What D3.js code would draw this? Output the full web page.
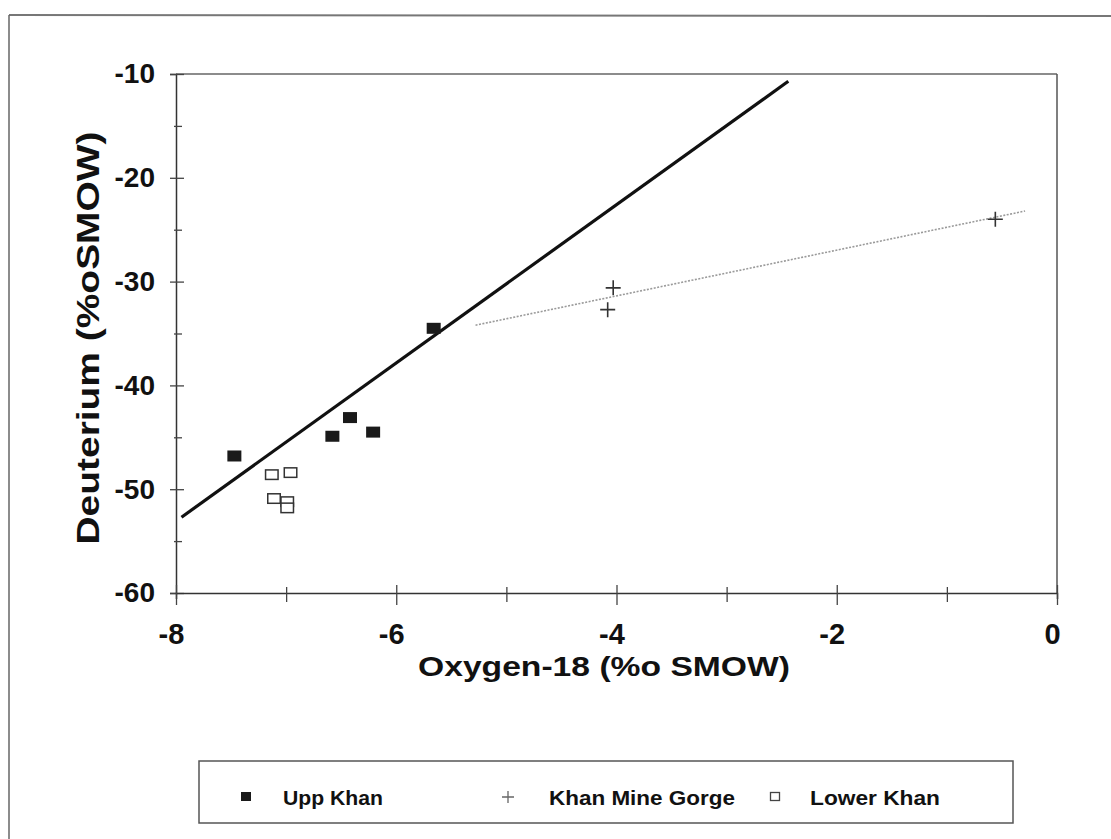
<!DOCTYPE html>
<html>
<head>
<meta charset="utf-8">
<script src="https://cdn.jsdelivr.net/npm/d3@7"></script>
<style>
  html, body { margin: 0; padding: 0; background: #fff; }
  svg { display: block; }
  text { font-family: "Liberation Sans", Arial, sans-serif; font-weight: bold; fill: #111; }
</style>
</head>
<body>
<svg id="chart" width="1111" height="839"></svg>
<script>
// ---- data ----
const seriesNames = ["Upp Khan", "Khan Mine Gorge", "Lower Khan"];
const uppKhanO18 = [-7.47, -6.58, -6.42, -6.21, -5.66];
const uppKhanD   = [-46.8, -44.9, -43.1, -44.5, -34.5];
const gorgeO18   = [-4.03, -4.08, -0.56];
const gorgeD     = [-30.6, -32.7, -24.0];
const lowerKhanO18 = [-7.13, -6.96, -7.11, -6.99, -6.99];
const lowerKhanD   = [-48.6, -48.4, -50.9, -51.2, -51.8];
// regression lines (end points)
const blackLineO18 = [-7.95, -2.44];
const blackLineD   = [-52.7, -10.7];
const greyLineO18  = [-5.28, -0.29];
const greyLineD    = [-34.2, -23.2];
// axis ticks
const xTickValues = [-8, -6, -4, -2, 0];
const xMinorValues = [-7, -5, -3, -1];
const yTickValues = [-10, -20, -30, -40, -50, -60];
const yMinorValues = [-15, -25, -35, -45, -55];
const xTitle = "Oxygen-18 (%o SMOW)";
const yTitle = "Deuterium  (%oSMOW)";

// ---- layout ----
const svg = d3.select("#chart");
const L = 176, R = 1057, T = 74, B = 593;
const x = d3.scaleLinear().domain([-8, 0]).range([L, R]);
const y = d3.scaleLinear().domain([-60, -10]).range([B, T]);

// outer frame
svg.append("line").attr("x1", 9).attr("x2", 1111).attr("y1", 15).attr("y2", 16)
  .attr("stroke", "#777").attr("stroke-width", 2);
svg.append("line").attr("x1", 9).attr("x2", 9).attr("y1", 15).attr("y2", 839)
  .attr("stroke", "#666").attr("stroke-width", 1.5);

// plot frame (top, right)
svg.append("line").attr("x1", L).attr("x2", R).attr("y1", T).attr("y2", T)
  .attr("stroke", "#666").attr("stroke-width", 1.5);
svg.append("line").attr("x1", R).attr("x2", R).attr("y1", T).attr("y2", B)
  .attr("stroke", "#555").attr("stroke-width", 1.5);

// y axis
const yAxis = svg.append("g").attr("transform", `translate(${L},0)`)
  .call(d3.axisLeft(y).tickValues(yTickValues).tickSize(6).tickFormat(d3.format("d")));
yAxis.select(".domain").attr("stroke", "#333").attr("stroke-width", 1.5);
yAxis.selectAll(".tick line").attr("x1", -6).attr("x2", 8).attr("stroke", "#444").attr("stroke-width", 1.3);
yAxis.selectAll(".tick text").attr("x", -21).attr("font-size", 28)
  .attr("font-family", "Liberation Sans, Arial, sans-serif").attr("font-weight", "bold").attr("fill", "#111")
  .text(d => d.toString().replace("\u2212", "-"));
const yMinor = svg.append("g").attr("transform", `translate(${L},0)`)
  .call(d3.axisLeft(y).tickValues(yMinorValues).tickSize(0).tickFormat(""));
yMinor.select(".domain").remove();
yMinor.selectAll(".tick line").attr("x1", -2).attr("x2", 6).attr("stroke", "#444").attr("stroke-width", 1.3);

// x axis
const xAxis = svg.append("g").attr("transform", `translate(0,${B})`)
  .call(d3.axisBottom(x).tickValues(xTickValues).tickSize(6).tickFormat(d3.format("d")));
xAxis.select(".domain").attr("stroke", "#333").attr("stroke-width", 1.5);
xAxis.selectAll(".tick line").attr("y1", -8).attr("y2", 12).attr("stroke", "#444").attr("stroke-width", 1.3);
xAxis.selectAll(".tick text").attr("x", -5).attr("y", 30).attr("dy", "0.71em").attr("font-size", 29)
  .attr("font-family", "Liberation Sans, Arial, sans-serif").attr("font-weight", "bold").attr("fill", "#111")
  .text(d => d.toString().replace("\u2212", "-"));
const xMinor = svg.append("g").attr("transform", `translate(0,${B})`)
  .call(d3.axisBottom(x).tickValues(xMinorValues).tickSize(0).tickFormat(""));
xMinor.select(".domain").remove();
xMinor.selectAll(".tick line").attr("y1", -6).attr("y2", 9).attr("stroke", "#444").attr("stroke-width", 1.3);

// axis titles
svg.append("text").attr("x", 604).attr("y", 676).attr("text-anchor", "middle")
  .attr("font-size", 28).attr("textLength", 372).attr("lengthAdjust", "spacingAndGlyphs")
  .text(xTitle);
svg.append("text").attr("transform", "translate(99,338) rotate(-90)").attr("text-anchor", "middle")
  .attr("font-size", 31).attr("textLength", 413).attr("lengthAdjust", "spacingAndGlyphs")
  .text(yTitle);

// regression lines
const lineGen = d3.line().x(d => x(d[0])).y(d => y(d[1]));
svg.append("path").datum(d3.zip(greyLineO18, greyLineD)).attr("d", lineGen)
  .attr("fill", "none").attr("stroke", "#9a9a9a").attr("stroke-width", 1.6).attr("stroke-dasharray", "2,1.5");
svg.append("path").datum(d3.zip(blackLineO18, blackLineD)).attr("d", lineGen)
  .attr("fill", "none").attr("stroke", "#111").attr("stroke-width", 3.2);

// markers
const sw = 14, sh = 11;
svg.append("g").selectAll("rect").data(d3.zip(uppKhanO18, uppKhanD)).join("rect")
  .attr("x", d => x(d[0]) - sw / 2).attr("y", d => y(d[1]) - sh / 2)
  .attr("width", sw).attr("height", sh).attr("fill", "#1a1a1a");
svg.append("g").selectAll("rect").data(d3.zip(lowerKhanO18, lowerKhanD)).join("rect")
  .attr("x", d => x(d[0]) - sw / 2 + 0.75).attr("y", d => y(d[1]) - sh / 2 + 0.75)
  .attr("width", sw - 1.5).attr("height", sh - 1.5).attr("fill", "#fff")
  .attr("stroke", "#333").attr("stroke-width", 1.5);
const ps = 7.5;
svg.append("g").selectAll("path").data(d3.zip(gorgeO18, gorgeD)).join("path")
  .attr("d", d => `M${x(d[0]) - ps},${y(d[1])}H${x(d[0]) + ps}M${x(d[0])},${y(d[1]) - ps}V${y(d[1]) + ps}`)
  .attr("stroke", "#333").attr("stroke-width", 1.6).attr("fill", "none");

// legend
const lg = svg.append("g");
lg.append("rect").attr("x", 199).attr("y", 761).attr("width", 814).attr("height", 62)
  .attr("fill", "#fff").attr("stroke", "#555").attr("stroke-width", 1.5);
const legendItems = [
  { name: seriesNames[0], mx: 246, tx: 283, len: 100, type: "filled" },
  { name: seriesNames[1], mx: 508, tx: 549, len: 186, type: "plus" },
  { name: seriesNames[2], mx: 775, tx: 810, len: 130, type: "open" }
];
const ly = 798;
legendItems.forEach(it => {
  if (it.type === "filled") {
    lg.append("rect").attr("x", it.mx - 5).attr("y", ly - 6).attr("width", 10).attr("height", 9).attr("fill", "#1a1a1a");
  } else if (it.type === "open") {
    lg.append("rect").attr("x", it.mx - 4.5).attr("y", ly - 5.5).attr("width", 9).attr("height", 8)
      .attr("fill", "#fff").attr("stroke", "#444").attr("stroke-width", 1.3);
  } else {
    lg.append("path").attr("d", `M${it.mx - 6},${ly - 1}H${it.mx + 6}M${it.mx},${ly - 7}V${ly + 5}`)
      .attr("stroke", "#666").attr("stroke-width", 1.3);
  }
  lg.append("text").attr("x", it.tx).attr("y", ly + 7).attr("font-size", 20)
    .attr("textLength", it.len).attr("lengthAdjust", "spacingAndGlyphs").text(it.name);
});
</script>
</body>
</html>
